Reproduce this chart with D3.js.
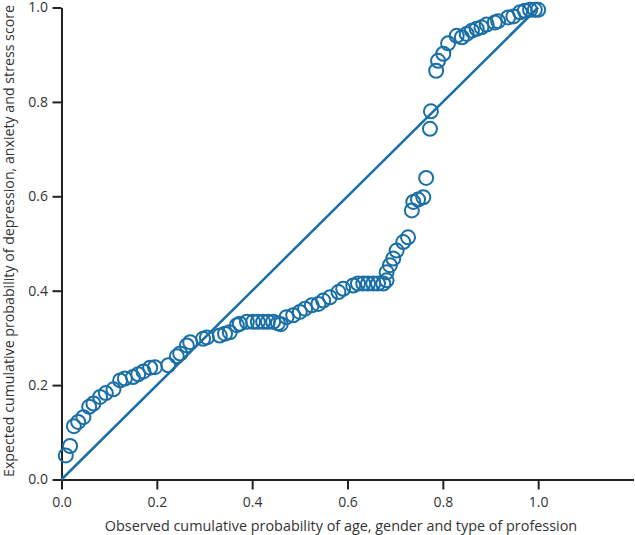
<!DOCTYPE html>
<html>
<head>
<meta charset="utf-8">
<script src="https://cdn.jsdelivr.net/npm/d3@7"></script>
<style>
  body { margin: 0; background: #fff; }
  text { font-family: "Open Sans", sans-serif; fill: #333; }
</style>
</head>
<body>
<script>
var width = 635,
    height = 535

// observed (x) vs expected (y) cumulative probability
var observed = [0.009, 0.018, 0.026, 0.035, 0.046, 0.058, 0.067, 0.081, 0.093, 0.109,
  0.123, 0.133, 0.150, 0.161, 0.172, 0.186, 0.196, 0.224, 0.242, 0.249,
  0.263, 0.270, 0.297, 0.305, 0.332, 0.343, 0.353, 0.368, 0.374, 0.389,
  0.402, 0.412, 0.423, 0.433, 0.444, 0.454, 0.460, 0.472, 0.486, 0.500,
  0.511, 0.525, 0.539, 0.549, 0.563, 0.581, 0.591, 0.612, 0.622, 0.633,
  0.643, 0.654, 0.664, 0.675, 0.682, 0.682, 0.689, 0.696, 0.703, 0.717,
  0.727, 0.735, 0.738, 0.748, 0.759, 0.765, 0.773, 0.775, 0.786, 0.790,
  0.801, 0.811, 0.829, 0.840, 0.850, 0.861, 0.871, 0.881, 0.892, 0.909,
  0.916, 0.937, 0.948, 0.962, 0.972, 0.983, 0.993, 1.000]

var expected = [0.051, 0.071, 0.113, 0.122, 0.132, 0.154, 0.161, 0.175, 0.183, 0.191,
  0.210, 0.214, 0.217, 0.223, 0.229, 0.237, 0.238, 0.242, 0.261, 0.267,
  0.284, 0.291, 0.298, 0.301, 0.305, 0.309, 0.312, 0.327, 0.330, 0.334,
  0.334, 0.334, 0.334, 0.334, 0.334, 0.331, 0.329, 0.344, 0.348, 0.355,
  0.362, 0.369, 0.372, 0.379, 0.386, 0.397, 0.404, 0.411, 0.415, 0.415,
  0.415, 0.415, 0.415, 0.415, 0.422, 0.439, 0.454, 0.468, 0.485, 0.503,
  0.513, 0.570, 0.588, 0.593, 0.598, 0.639, 0.743, 0.780, 0.866, 0.887,
  0.902, 0.924, 0.940, 0.937, 0.944, 0.951, 0.955, 0.958, 0.964, 0.968,
  0.971, 0.979, 0.981, 0.990, 0.993, 0.995, 0.995, 0.995]

var xTicks = [0, 0.2, 0.4, 0.6, 0.8, 1.0]
var yTicks = [0, 0.2, 0.4, 0.6, 0.8, 1.0]
var refLine = [0, 1]

var xLabel = 'Observed cumulative probability of age, gender and type of profession'
var yLabel = 'Expected cumulative probability of depression, anxiety and stress score'

var blue = '#1a6fa6'

var x = d3.scaleLinear()
    .domain([0, 1.2])
    .range([61.5, 633.5])

var y = d3.scaleLinear()
    .domain([0, 1])
    .range([479.5, 7.5])

var points = observed.map(function(d, i){ return {x: d, y: expected[i]} })

var svg = d3.select('body').append('svg')
    .attr('width', width)
    .attr('height', height)

// axes
var xAxis = svg.append('g')
    .attr('transform', 'translate(0,' + y(0) + ')')
    .call(d3.axisBottom(x).tickValues(xTicks).tickFormat(d3.format('.1f')).tickSize(10).tickSizeOuter(0))

var yAxis = svg.append('g')
    .attr('transform', 'translate(' + x(0) + ',0)')
    .call(d3.axisLeft(y).tickValues(yTicks).tickFormat(d3.format('.1f')).tickSize(9).tickSizeOuter(0))

svg.selectAll('.domain').attr('stroke', '#222').attr('stroke-width', 2)
svg.selectAll('.tick line').attr('stroke', '#222').attr('stroke-width', 2)
svg.selectAll('.tick text')
    .style('font-family', '"Open Sans", sans-serif')
    .style('font-size', '14px')
    .attr('fill', '#333')

xAxis.selectAll('.tick text').attr('y', 18).attr('dy', '0.71em')
yAxis.selectAll('.tick text').attr('x', -13.5)

// reference line
svg.append('line')
    .attr('x1', x(refLine[0])).attr('y1', y(refLine[0]))
    .attr('x2', x(refLine[1])).attr('y2', y(refLine[1]))
    .attr('stroke', blue)
    .attr('stroke-width', 2.5)

// points
svg.selectAll('circle.pt')
    .data(points)
  .enter().append('circle')
    .attr('class', 'pt')
    .attr('cx', function(d){ return x(d.x) })
    .attr('cy', function(d){ return y(d.y) })
    .attr('r', 7)
    .attr('fill', 'none')
    .attr('stroke', blue)
    .attr('stroke-width', 2)

// labels
svg.append('text')
    .attr('x', 341)
    .attr('y', 531)
    .attr('text-anchor', 'middle')
    .style('font-size', '14.4px')
    .text(xLabel)

svg.append('text')
    .attr('transform', 'translate(9,241) rotate(-90)')
    .attr('text-anchor', 'middle')
    .attr('dy', '0.35em')
    .style('font-size', '14.2px')
    .text(yLabel)
</script>
</body>
</html>
